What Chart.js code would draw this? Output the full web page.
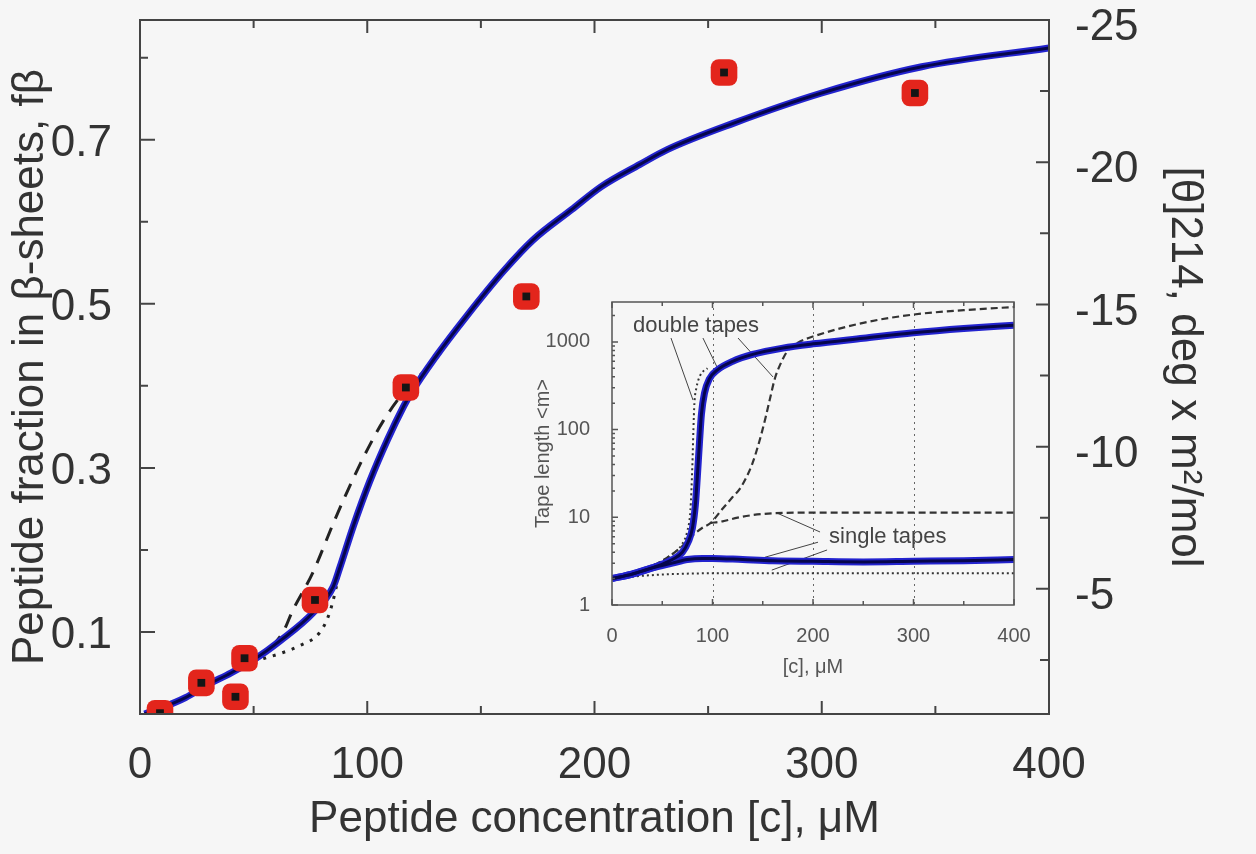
<!DOCTYPE html>
<html>
<head>
<meta charset="utf-8">
<script src="https://cdn.jsdelivr.net/npm/chart.js@4.4.1/dist/chart.umd.min.js"></script>
<style>
  html, body { margin: 0; padding: 0; background: #f6f6f6; }
  #wrap { position: relative; width: 1256px; height: 854px; }
  #main { position: absolute; left: 0; top: 0; }
  #inset { position: absolute; left: 520px; top: 292px; }
</style>
</head>
<body>
<div id="wrap">
  <canvas id="main" width="1256" height="854"></canvas>
  <canvas id="inset" width="510" height="395"></canvas>
</div>
<script>
// ---- main panel data: peptide concentration (uM) vs fraction in beta-sheets
const expConc = [8.8, 27, 42, 46, 77, 117, 170, 257, 341];
const expFrac = [0.001, 0.038, 0.021, 0.068, 0.139, 0.398, 0.509, 0.782, 0.757];

const fitConc = [2, 10, 20, 30, 40, 50, 62, 76, 85, 88, 94, 101, 109, 116, 119, 130, 144, 160, 173, 190, 203, 220, 232, 261, 300, 344, 400];
const fitFrac = [0, 0.008, 0.02, 0.036, 0.05, 0.066, 0.09, 0.123, 0.155, 0.179, 0.23, 0.283, 0.335, 0.375, 0.39, 0.435, 0.486, 0.54, 0.578, 0.615, 0.643, 0.67, 0.688, 0.72, 0.757, 0.789, 0.812];

const dashConc = [2, 20, 40, 55, 63, 67, 76, 85, 91, 100, 107, 116, 125];
const dashFrac = [0, 0.02, 0.05, 0.075, 0.1, 0.125, 0.172, 0.232, 0.27, 0.322, 0.357, 0.392, 0.418];

const dotConc = [50, 63, 70, 79, 83, 86, 88];
const dotFrac = [0.064, 0.075, 0.083, 0.099, 0.12, 0.15, 0.178];

const xLabels = [0, 100, 200, 300, 400];
const yLabels = [0.1, 0.3, 0.5, 0.7];
const y2Labels = [-25, -20, -15, -10, -5];

// ---- inset data: tape length <m> vs [c]
const dblBlueC = [0, 20, 40, 60, 70, 76, 80, 83, 85, 87, 89, 92, 97, 105, 120, 140, 170, 200, 250, 300, 350, 400];
const dblBlueM = [2.0, 2.25, 2.65, 3.3, 4.0, 5.3, 7.5, 14, 30, 70, 150, 260, 380, 480, 600, 720, 850, 950, 1100, 1270, 1420, 1550];

const sglBlueC = [0, 20, 40, 60, 75, 90, 100, 130, 160, 200, 250, 300, 350, 400];
const sglBlueM = [2.0, 2.25, 2.65, 3.0, 3.3, 3.4, 3.4, 3.3, 3.2, 3.15, 3.1, 3.15, 3.2, 3.3];

const dblDotC = [0, 20, 40, 60, 70, 75, 78, 80, 81, 82, 84, 88, 95];
const dblDotM = [2.0, 2.3, 2.8, 3.8, 5, 7, 12, 40, 100, 200, 300, 420, 500];

const sglDotC = [0, 30, 60, 100, 200, 300, 400];
const sglDotM = [2.0, 2.15, 2.25, 2.3, 2.3, 2.3, 2.3];

const dblDashC = [0, 40, 60, 70, 80, 90, 98, 110, 120, 127, 134, 140, 147, 153, 157, 162, 167, 175, 185, 200, 250, 300, 350, 400];
const dblDashM = [2.0, 2.8, 3.8, 4.7, 6.2, 7.6, 8.6, 12.5, 17, 21, 29, 42, 76, 140, 220, 380, 540, 800, 980, 1150, 1650, 2050, 2300, 2500];

const sglDashC = [98, 110, 125, 140, 160, 200, 300, 400];
const sglDashM = [8.6, 9.0, 9.9, 10.6, 11.1, 11.3, 11.3, 11.3];

const insetXLabels = [0, 100, 200, 300, 400];
const insetYLabels = [1, 10, 100, 1000];

// leader lines [c0, m0, c1, m1]
const leaders = [
  [58.7, 1107, 80.6, 217],
  [90.5, 1107, 104.5, 517],
  [125.4, 1107, 160.2, 398],
  [207, 6.8, 164, 11.2],
  [205, 5.2, 152, 3.5],
  [214, 4.24, 159, 2.5]
];
const notes = [
  { text: 'double tapes', c: 21, m: 1520 },
  { text: 'single tapes', c: 216, m: 5.96 }
];

const FONT = 'Liberation Sans, Arial, sans-serif';
const pts = (xs, ys) => xs.map((x, i) => ({ x: x, y: ys[i] }));

// fixed axis box sizes, no extra label padding pushed into the layout
function fixWidth(w) {
  return s => { s.width = w; s.paddingTop = 0; s.paddingBottom = 0; };
}
function fixHeight(h) {
  return s => { s.height = h; s.paddingLeft = 0; s.paddingRight = 0; };
}

// frame + inward ticks, drawn from the scales
function frameTicks(specs, color, width) {
  return {
    id: 'frameTicks',
    afterDatasetsDraw(chart) {
      const ctx = chart.ctx, a = chart.chartArea;
      ctx.save();
      ctx.strokeStyle = color;
      ctx.lineWidth = width;
      ctx.strokeRect(a.left, a.top, a.right - a.left, a.bottom - a.top);
      specs.forEach(sp => {
        const scale = chart.scales[sp.axis];
        ctx.beginPath();
        sp.values.forEach(v => {
          const len = sp.isMajor(v) ? sp.long : sp.short;
          const p = scale.getPixelForValue(v);
          sp.sides.forEach(side => {
            if (side === 'bottom') { ctx.moveTo(p, a.bottom); ctx.lineTo(p, a.bottom - len); }
            if (side === 'top') { ctx.moveTo(p, a.top); ctx.lineTo(p, a.top + len); }
            if (side === 'left') { ctx.moveTo(a.left, p); ctx.lineTo(a.left + len, p); }
            if (side === 'right') { ctx.moveTo(a.right, p); ctx.lineTo(a.right - len, p); }
          });
        });
        ctx.stroke();
      });
      ctx.restore();
    }
  };
}

const near = (v, step) => Math.abs(v / step - Math.round(v / step)) < 1e-6;

const mainTicks = frameTicks([
  { axis: 'x', values: [0, 50, 100, 150, 200, 250, 300, 350, 400], sides: ['bottom', 'top'], isMajor: v => near(v, 100), long: 13, short: 8 },
  { axis: 'y', values: [0.1, 0.2, 0.3, 0.4, 0.5, 0.6, 0.7, 0.8], sides: ['left'], isMajor: v => yLabels.some(l => Math.abs(l - v) < 1e-6), long: 15, short: 8 },
  { axis: 'y2', values: [-22.5, -20, -17.5, -15, -12.5, -10, -7.5, -5, -2.5], sides: ['right'], isMajor: v => near(v, 5), long: 13, short: 9 }
], '#444', 2);

new Chart(document.getElementById('main'), {
  type: 'line',
  data: {
    datasets: [
      { data: pts(expConc, expFrac), showLine: false, pointStyle: 'rect', pointRadius: 5.5, backgroundColor: '#151515', borderWidth: 0, order: 0 },
      { data: pts(expConc, expFrac), showLine: false, pointStyle: 'rectRounded', pointRadius: 15.5, backgroundColor: '#e3251c', borderWidth: 0, order: 1 },
      { data: pts(fitConc, fitFrac), borderColor: '#06064c', borderWidth: 3, pointRadius: 0, cubicInterpolationMode: 'monotone', order: 2 },
      { data: pts(fitConc, fitFrac), borderColor: '#2323cf', borderWidth: 7, pointRadius: 0, cubicInterpolationMode: 'monotone', order: 3 },
      { data: pts(dashConc, dashFrac), borderColor: '#222', borderWidth: 3, borderDash: [14, 10], pointRadius: 0, cubicInterpolationMode: 'monotone', order: 4 },
      { data: pts(dotConc, dotFrac), borderColor: '#222', borderWidth: 3, borderDash: [3, 7], pointRadius: 0, cubicInterpolationMode: 'monotone', order: 5 }
    ]
  },
  options: {
    responsive: false,
    animation: false,
    layout: { padding: { top: 20, left: 0, right: 0, bottom: 0 } },
    plugins: { legend: { display: false }, tooltip: { enabled: false } },
    scales: {
      x: {
        type: 'linear', position: 'bottom', min: 0, max: 400,
        grid: { display: false }, border: { display: false },
        afterBuildTicks: s => { s.ticks = xLabels.map(v => ({ value: v })); },
        afterFit: fixHeight(140),
        ticks: { font: { family: FONT, size: 44 }, color: '#333', padding: 17, maxRotation: 0, autoSkip: false },
        title: { display: true, text: 'Peptide concentration [c], μM', font: { family: FONT, size: 44 }, color: '#333', padding: { top: 0, bottom: 8 } }
      },
      y: {
        type: 'linear', position: 'left', min: 0, max: 0.846,
        grid: { display: false }, border: { display: false },
        afterBuildTicks: s => { s.ticks = yLabels.map(v => ({ value: v })); },
        afterFit: fixWidth(140),
        ticks: { font: { family: FONT, size: 44 }, color: '#333', padding: 20, labelOffset: 4, callback: v => v.toFixed(1) },
        title: { display: true, text: 'Peptide fraction in β-sheets, fβ', font: { family: FONT, size: 44 }, color: '#333', padding: { top: 4, bottom: 0 } }
      },
      y2: {
        type: 'linear', position: 'right', min: -25, max: -0.6, reverse: true,
        grid: { display: false }, border: { display: false },
        afterBuildTicks: s => { s.ticks = y2Labels.map(v => ({ value: v })); },
        afterFit: fixWidth(207),
        ticks: { font: { family: FONT, size: 44 }, color: '#333', padding: 18, labelOffset: 8, callback: v => String(v) },
        title: { display: true, text: '[θ]214, deg x m²/mol', font: { family: FONT, size: 44 }, color: '#333', padding: { top: 45, bottom: 0 } }
      }
    }
  },
  plugins: [mainTicks]
});

// ---- inset
const decadeMinors = [];
[1, 10, 100, 1000].forEach(d => { for (let k = 1; k <= 9; k++) if (d * k <= 2850) decadeMinors.push(d * k); });

const insetTicks = frameTicks([
  { axis: 'x', values: [0, 50, 100, 150, 200, 250, 300, 350, 400], sides: ['bottom', 'top'], isMajor: v => near(v, 100), long: 6, short: 4 },
  { axis: 'y', values: decadeMinors, sides: ['left'], isMajor: v => insetYLabels.includes(v), long: 6, short: 3 }
], '#555', 1.5);

const insetBack = {
  id: 'insetBack',
  beforeDatasetsDraw(chart) {
    const ctx = chart.ctx, a = chart.chartArea, x = chart.scales.x;
    ctx.save();
    ctx.fillStyle = '#f6f6f6';
    ctx.fillRect(a.left, a.top, a.right - a.left, a.bottom - a.top);
    ctx.strokeStyle = '#666';
    ctx.lineWidth = 1;
    ctx.setLineDash([2, 4]);
    [100, 200, 300].forEach(v => {
      const p = Math.round(x.getPixelForValue(v)) + 0.5;
      ctx.beginPath(); ctx.moveTo(p, a.top); ctx.lineTo(p, a.bottom); ctx.stroke();
    });
    ctx.restore();
  },
  afterDatasetsDraw(chart) {
    const ctx = chart.ctx, x = chart.scales.x, y = chart.scales.y;
    ctx.save();
    ctx.font = '22px ' + FONT;
    ctx.fillStyle = '#444';
    ctx.textAlign = 'left';
    ctx.textBaseline = 'middle';
    notes.forEach(n => ctx.fillText(n.text, x.getPixelForValue(n.c), y.getPixelForValue(n.m)));
    ctx.restore();
  }
};

const insetSets = [
  { data: pts(dblBlueC, dblBlueM), borderColor: '#06064c', borderWidth: 3, order: 0 },
  { data: pts(dblBlueC, dblBlueM), borderColor: '#2323cf', borderWidth: 7, order: 1 },
  { data: pts(sglBlueC, sglBlueM), borderColor: '#06064c', borderWidth: 3, order: 0 },
  { data: pts(sglBlueC, sglBlueM), borderColor: '#2323cf', borderWidth: 7, order: 1 },
  { data: pts(dblDotC, dblDotM), borderColor: '#333', borderWidth: 2, borderDash: [2, 3], order: 2 },
  { data: pts(sglDotC, sglDotM), borderColor: '#333', borderWidth: 2, borderDash: [2, 3], order: 2 },
  { data: pts(dblDashC, dblDashM), borderColor: '#333', borderWidth: 2.2, borderDash: [7, 4], order: 2 },
  { data: pts(sglDashC, sglDashM), borderColor: '#333', borderWidth: 2.2, borderDash: [7, 4], order: 2 }
].map(d => Object.assign({ pointRadius: 0, cubicInterpolationMode: 'monotone' }, d));

leaders.forEach(l => insetSets.push({
  data: [{ x: l[0], y: l[1] }, { x: l[2], y: l[3] }],
  borderColor: '#444', borderWidth: 1, pointRadius: 0, order: 3
}));

new Chart(document.getElementById('inset'), {
  type: 'line',
  data: { datasets: insetSets },
  options: {
    responsive: false,
    animation: false,
    layout: { padding: { top: 10, right: 16, left: 0, bottom: 0 } },
    plugins: { legend: { display: false }, tooltip: { enabled: false } },
    scales: {
      x: {
        type: 'linear', min: 0, max: 400,
        grid: { display: false }, border: { display: false },
        afterBuildTicks: s => { s.ticks = insetXLabels.map(v => ({ value: v })); },
        afterFit: fixHeight(82),
        ticks: { font: { family: FONT, size: 20 }, color: '#555', padding: 11, maxRotation: 0, autoSkip: false },
        title: { display: true, text: '[c], μM', font: { family: FONT, size: 20 }, color: '#555', padding: { top: 0, bottom: 8 } }
      },
      y: {
        type: 'logarithmic', min: 1, max: 2850,
        grid: { display: false }, border: { display: false },
        afterBuildTicks: s => { s.ticks = insetYLabels.map(v => ({ value: v })); },
        afterFit: fixWidth(92),
        ticks: { font: { family: FONT, size: 20 }, color: '#555', padding: 14, callback: v => String(v) },
        title: { display: true, text: 'Tape length <m>', font: { family: FONT, size: 20 }, color: '#555', padding: { top: 11, bottom: 0 } }
      }
    }
  },
  plugins: [insetBack, insetTicks]
});
</script>
</body>
</html>
